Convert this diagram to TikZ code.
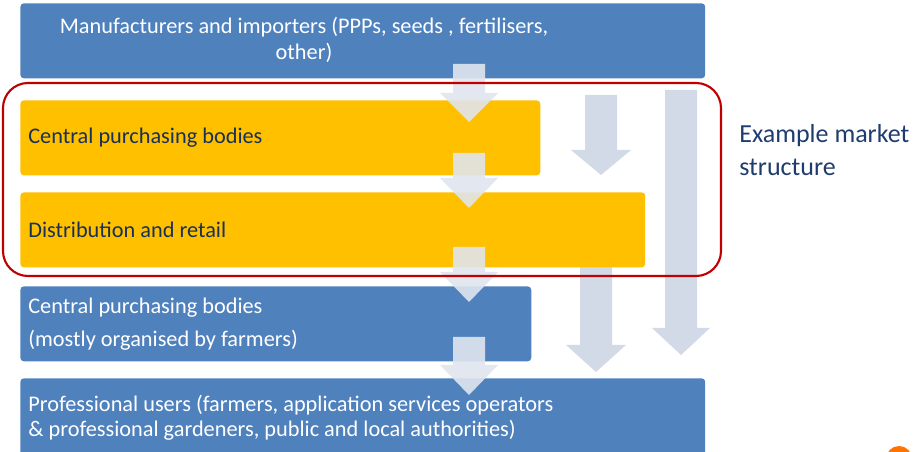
\documentclass[tikz,border=0pt]{standalone}
\usepackage{fontspec}
\setmainfont{Carlito}
\definecolor{boxblue}{HTML}{4F81BD}
\definecolor{boxyellow}{HTML}{FFC000}
\definecolor{flowgray}{HTML}{D3DAE7}
\definecolor{framered}{HTML}{C00000}
\definecolor{notenavy}{HTML}{1F3C6E}
\tikzset{
  box/.style={anchor=north west, rounded corners=2pt, inner xsep=0.16cm, align=flush left,
    font=\fontsize{12.7}{14.5}\selectfont, minimum height=1.5cm},
  bluebox/.style={box, fill=boxblue, text=white},
  yellowbox/.style={box, fill=boxyellow, text=notenavy!80!black},
  flow/.style={fill=flowgray},
  flowtop/.style={fill=flowgray!70!white, fill opacity=0.9},
}
% block arrow: centre x, top y, head start y, tip y, shaft half width, head half width
\newcommand{\blockarrow}[7]{%
  \fill[#1] (#2-#6,#3) -- (#2+#6,#3) -- (#2+#6,#4) -- (#2+#7,#4) -- (#2,#5)
    -- (#2-#7,#4) -- (#2-#6,#4) -- cycle;}
\begin{document}
\begin{tikzpicture}[x=0.02cm, y=-0.02cm]
\useasboundingbox (0,0) rectangle (916,452);
% long flows on the right
\blockarrow{flow}{681}{90}{328}{355}{16}{29}
\blockarrow{flow}{601}{95}{150}{175}{16}{30}
\blockarrow{flow}{596}{200}{345}{372}{16}{30}
% the chain
\node[bluebox, text width=13.38cm] (maker) at (20,3) {};
\node[font=\fontsize{12.7}{14.5}\selectfont, text=white, align=center] (makertext) at (304,40)
  {Manufacturers and importers (PPPs, seeds , fertilisers,\\ other)};
\node[yellowbox, text width=10.08cm] (central) at (20,100) {Central purchasing bodies};
\node[yellowbox, text width=12.18cm] (retail) at (20,192) {Distribution and retail};
\node[bluebox, text width=9.9cm] (coop) at (20,286)
  {Central purchasing bodies\\[4.3pt](mostly organised by farmers)};
\node[bluebox, text width=13.38cm, minimum height=1.58cm] (users) at (20,378)
  {Professional users (farmers, application services operators\\\& professional gardeners, public and local authorities)};
% small flows between boxes
\blockarrow{flowtop}{469}{64}{93}{122}{16}{29}
\blockarrow{flowtop}{469}{153}{178}{208}{16}{29}
\blockarrow{flowtop}{469}{247}{272}{302}{16}{29}
\blockarrow{flowtop}{469}{337}{365}{395}{16}{29}
% example frame
\draw[framered, line width=1.2pt, rounded corners=0.5cm] (3,83) rectangle (721,276);
\node[anchor=north west, align=left, text=notenavy, font=\fontsize{14.8}{18.7}\selectfont,
  inner sep=0pt] (note) at (739,124) {Example market\\structure};
% logo corner
\fill[orange!90!red] (899,459) circle (13);
\end{tikzpicture}
\end{document}
